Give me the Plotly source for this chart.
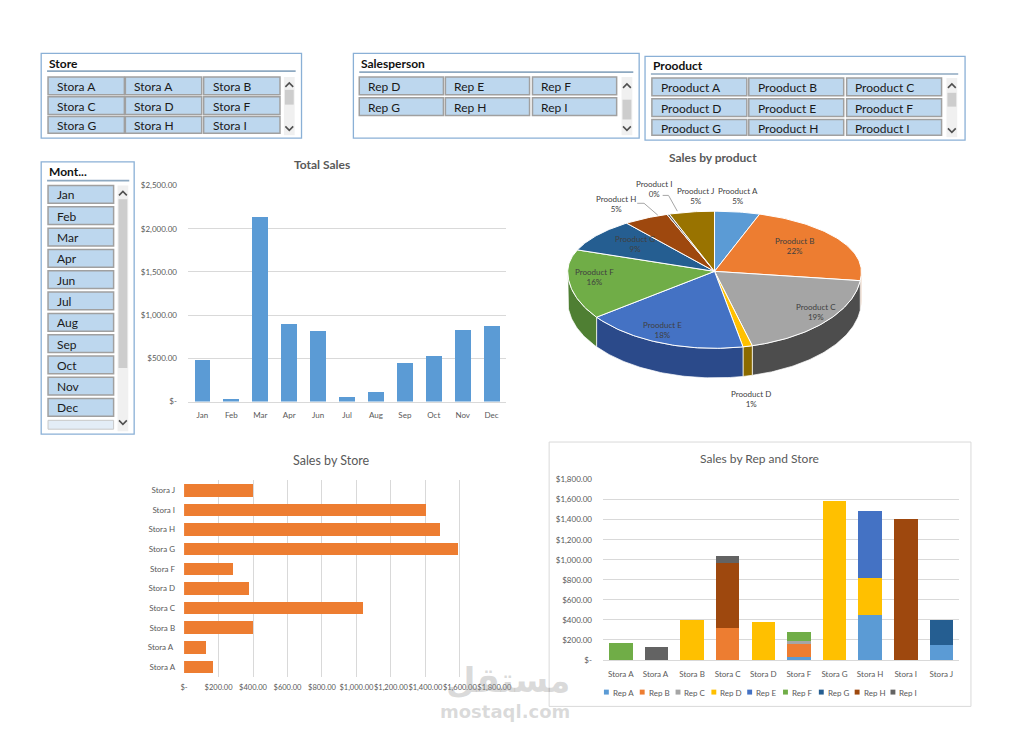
import math
import plotly.graph_objects as go

W, H = 1032, 741
FONT = "Lato"
GRAY = "#595959"
GRID = "#D9D9D9"

# ---------------- data ----------------
months = ["Jan", "Feb", "Mar", "Apr", "Jun", "Jul", "Aug", "Sep", "Oct", "Nov", "Dec"]
monthly_sales = [483, 34, 2138, 898, 822, 57, 114, 445, 525, 833, 871]

products = ["Prooduct A", "Prooduct B", "Prooduct C", "Prooduct D", "Prooduct E",
            "Prooduct F", "Prooduct G", "Prooduct H", "Prooduct I", "Prooduct J"]
product_sales = [360, 1590, 1370, 75, 1300, 1155, 650, 360, 20, 360]
product_colors = ["#5B9BD5", "#ED7D31", "#A5A5A5", "#FFC000", "#4472C4",
                  "#70AD47", "#255E91", "#9E480E", "#636363", "#997300"]
product_side_colors = ["#3F75A8", "#B85E1F", "#4D4D4D", "#8A6A00", "#2B4A8A",
                       "#4F7F33", "#1A4268", "#6E320A", "#444444", "#6B5100"]

stores = ["Stora A", "Stora A ", "Stora B", "Stora C", "Stora D",
          "Stora F", "Stora G", "Stora H", "Stora I", "Stora J"]
store_sales = [167, 128, 399, 1037, 374, 282, 1587, 1484, 1403, 399]

reps = ["Rep A", "Rep B", "Rep C", "Rep D", "Rep E", "Rep F", "Rep G", "Rep H", "Rep I"]
rep_colors = ["#5B9BD5", "#ED7D31", "#A5A5A5", "#FFC000", "#4472C4",
              "#70AD47", "#255E91", "#9E480E", "#636363"]
rep_a = [0, 0, 0, 0, 0, 30, 0, 445, 0, 150]
rep_b = [0, 0, 0, 315, 0, 130, 0, 0, 0, 0]
rep_c = [0, 0, 0, 0, 0, 30, 0, 0, 0, 0]
rep_d = [0, 0, 400, 0, 375, 0, 1585, 373, 0, 0]
rep_e = [0, 0, 0, 0, 0, 0, 0, 667, 0, 0]
rep_f = [170, 0, 0, 0, 0, 92, 0, 0, 0, 0]
rep_g = [0, 0, 0, 0, 0, 0, 0, 0, 0, 248]
rep_h = [0, 0, 0, 653, 0, 0, 0, 0, 1403, 0]
rep_i = [0, 130, 0, 69, 0, 0, 0, 0, 0, 0]
rep_values = [rep_a, rep_b, rep_c, rep_d, rep_e, rep_f, rep_g, rep_h, rep_i]

total_ticks = [0, 500, 1000, 1500, 2000, 2500]
total_ticktext = ["$-", "$500.00", "$1,000.00", "$1,500.00", "$2,000.00", "$2,500.00"]
store_ticks = [0, 200, 400, 600, 800, 1000, 1200, 1400, 1600, 1800]
store_ticktext = ["$-", "$200.00", "$400.00", "$600.00", "$800.00", "$1,000.00",
                  "$1,200.00", "$1,400.00", "$1,600.00", "$1,800.00"]

store_slicer_items = ["Stora A", "Stora A", "Stora B", "Stora C", "Stora D",
                      "Stora F", "Stora G", "Stora H", "Stora I"]
salesperson_slicer_items = ["Rep D", "Rep E", "Rep F", "Rep G", "Rep H", "Rep I"]
product_slicer_items = ["Prooduct A", "Prooduct B", "Prooduct C", "Prooduct D",
                        "Prooduct E", "Prooduct F", "Prooduct G", "Prooduct H", "Prooduct I"]
month_slicer_items = ["Jan", "Feb", "Mar", "Apr", "Jun", "Jul", "Aug", "Sep", "Oct", "Nov", "Dec"]


# ---------------- helpers ----------------
def X(p):
    return p / W


def Y(p):
    return 1 - p / H


shapes = []
anns = []


def rect(x0, y0, x1, y1, fill=None, line=None, lw=1.0):
    shapes.append(dict(type="rect", xref="paper", yref="paper",
                       x0=X(x0), x1=X(x1), y0=Y(y1), y1=Y(y0),
                       fillcolor=fill or "rgba(0,0,0,0)",
                       line=dict(color=line or "rgba(0,0,0,0)", width=lw if line else 0),
                       layer="below"))


def hline(x0, x1, y, color, lw=1.0):
    shapes.append(dict(type="line", xref="paper", yref="paper",
                       x0=X(x0), x1=X(x1), y0=Y(y), y1=Y(y),
                       line=dict(color=color, width=lw), layer="below"))


def chevron(cx, cy, up=True):
    d = -1 if up else 1
    path = "M {},{} L {},{} L {},{}".format(X(cx - 4), Y(cy - 2 * d), X(cx), Y(cy + 2 * d),
                                            X(cx + 4), Y(cy - 2 * d))
    shapes.append(dict(type="path", xref="paper", yref="paper", path=path,
                       line=dict(color="#505050", width=1.6)))


def text(x, y, s, size=8, color=GRAY, anchor="left", family=FONT, ref="paper"):
    if ref == "paper":
        xx, yy, xr, yr = X(x), Y(y), "paper", "paper"
    else:
        xx, yy, xr, yr = x, y, "x4", "y4"
    anns.append(dict(x=xx, y=yy, xref=xr, yref=yr, text=s, showarrow=False,
                     xanchor=anchor, yanchor="middle",
                     font=dict(family=family, size=size, color=color)))


def slicer(box, title, title_y, sep_y, items, cols_x, col_w, rows_y, row_h, clip_y,
           scroll_x, thumb, arrows):
    x0, y0, x1, y1 = box
    rect(x0, y0, x1, y1, fill="white", line="#8AB0D6", lw=1.3)
    text(x0 + 6, title_y, "<b>" + title + "</b>", size=12, color="#111111")
    hline(x0 + 6, scroll_x[1] + 1, sep_y, "#8EA9C1", 1.6)
    rect(scroll_x[0], rows_y[0], scroll_x[1], clip_y + 2, fill="#F0F0F0")
    rect(scroll_x[0] + 1, thumb[0], scroll_x[1] - 1, thumb[1], fill="#CDCDCD")
    chevron((scroll_x[0] + scroll_x[1]) / 2, arrows[0], True)
    chevron((scroll_x[0] + scroll_x[1]) / 2, arrows[1], False)
    ncol = len(cols_x)
    for i, it in enumerate(items):
        r, c = divmod(i, ncol)
        if r >= len(rows_y):
            break
        by0 = rows_y[r]
        by1 = min(by0 + row_h, clip_y)
        rect(cols_x[c], by0, cols_x[c] + col_w, by1, fill="#BDD7EE", line="#A0A0A0", lw=1.5)
        text(cols_x[c] + 7, by0 + row_h / 2 + 0.5, it, size=12, color="#1a1a1a")


# ---------------- slicers ----------------
slicer((38, 49, 304, 135), "Store", 59, 67, store_slicer_items,
       [45, 124, 204], 78, [73, 93, 113], 18, 130,
       (286, 297), (86, 101), (81, 125))
slicer((357, 49, 649, 135), "Salesperson", 59, 68, salesperson_slicer_items,
       [363, 451, 540], 86, [73, 94], 18, 130,
       (631, 642), (96, 116), (82, 125))
slicer((655, 52, 982, 137), "Prooduct", 61, 70, product_slicer_items,
       [662, 761, 861], 97, [74, 95, 116], 18, 132,
       (963, 974), (89, 103), (82, 127))
month_rows = [183 + i * 21.6 for i in range(len(month_slicer_items))]
slicer((38, 159, 133, 435), "Mont...", 169, 178, month_slicer_items,
       [45], 67, month_rows, 18, 430,
       (116, 127), (197, 368), (191, 423))
rect(45, 421, 112, 430, fill="#E3EDF7", line="#C8C8C8", lw=1)

# ---------------- figure ----------------
fig = go.Figure()

# Total Sales
fig.add_trace(go.Bar(x=months, y=monthly_sales, marker=dict(color="#5B9BD5", line=dict(width=0)),
                     width=0.55, xaxis="x", yaxis="y", showlegend=False, hoverinfo="skip"))

# Sales by Store
fig.add_trace(go.Bar(y=stores, x=store_sales, orientation="h",
                     marker=dict(color="#ED7D31", line=dict(width=0)),
                     width=0.64, xaxis="x2", yaxis="y2", showlegend=False, hoverinfo="skip"))

# Sales by Rep and Store
for name, vals, col in zip(reps, rep_values, rep_colors):
    fig.add_trace(go.Bar(x=stores, y=vals, name=name, marker=dict(color=col, line=dict(width=0)),
                         width=0.66, xaxis="x3", yaxis="y3", showlegend=False, hoverinfo="skip"))

# Legend for Rep chart
for i, (name, col) in enumerate(zip(reps, rep_colors)):
    sx = 613 + i * 36.6
    rect(sx, 694, sx + 5, 699, fill=col)
    text(sx + 7, 697, name, size=8)

# 3D-look pie (Sales by product) drawn in pixel-unit axes
cx, cy, rx, ry_up, ry_dn, depth = 726, 270, 150, 61, 78, 30


def ept(t):
    ry = ry_up if math.cos(t) >= 0 else ry_dn
    return cx + rx * math.sin(t), cy - ry * math.cos(t)


def arc(a, b):
    n = max(2, int(abs(b - a) / math.radians(1)) + 2)
    return [ept(a + (b - a) * k / (n - 1)) for k in range(n)]


total = float(sum(product_sales))
bounds = []
acc = 0.0
for v in product_sales:
    a = acc / total * 2 * math.pi
    acc += v
    b = acc / total * 2 * math.pi
    bounds.append((a, b))

# side walls
for (a, b), scol in zip(bounds, product_side_colors):
    a2, b2 = max(a, math.pi / 2), min(b, 3 * math.pi / 2)
    if a2 < b2:
        top = arc(a2, b2)
        bot = [(x, y + depth) for x, y in reversed(top)]
        pts = top + bot + [top[0]]
        fig.add_trace(go.Scatter(x=[p[0] for p in pts], y=[p[1] for p in pts], mode="lines",
                                 fill="toself", fillcolor=scol, line=dict(color="white", width=0.7),
                                 xaxis="x4", yaxis="y4", showlegend=False, hoverinfo="skip"))
# top faces
for (a, b), col in zip(bounds, product_colors):
    pts = [(cx, cy)] + arc(a, b) + [(cx, cy)]
    fig.add_trace(go.Scatter(x=[p[0] for p in pts], y=[p[1] for p in pts], mode="lines",
                             fill="toself", fillcolor=col, line=dict(color="white", width=1),
                             xaxis="x4", yaxis="y4", showlegend=False, hoverinfo="skip"))

label_pos = [(750, 194), (808, 244), (830, 311), (763, 399), (673, 329),
             (603, 276), (645, 242), (625, 202), (664, 187), (707, 194)]
for name, v, (lx, ly) in zip(products, product_sales, label_pos):
    pct = int(round(v / total * 100))
    text(lx, ly, "{}<br>{}%".format(name, pct), size=8, color="#404040", anchor="center", ref="x4")

for pts in ([(647, 201), (654, 201), (668, 213)], [(673, 193), (679, 193), (688, 209)]):
    path = "M " + " L ".join("{},{}".format(x, y) for x, y in pts)
    shapes.append(dict(type="path", xref="x4", yref="y4", path=path,
                       line=dict(color="#A6A6A6", width=1)))

# chart border for Rep and Store chart
rect(557, 443, 988, 711, line=GRID, lw=1)

# titles
text(325, 162, "<b>Total Sales</b>", size=12, anchor="center")
text(724, 155, "<b>Sales by product</b>", size=12, anchor="center")
text(335, 462, "Sales by Store", size=12.5, anchor="center")
text(772, 460, "Sales by Rep and Store", size=12, anchor="center")

# watermark
anns.append(dict(x=X(515), y=Y(684), xref="paper", yref="paper", text="<b>مستقل</b>",
                 showarrow=False, xanchor="center", yanchor="middle",
                 font=dict(family="DejaVu Sans", size=34, color="rgba(150,150,150,0.35)")))
anns.append(dict(x=X(512), y=Y(716), xref="paper", yref="paper", text="<b>mostaql.com</b>",
                 showarrow=False, xanchor="center", yanchor="middle",
                 font=dict(family="DejaVu Sans", size=18, color="rgba(150,150,150,0.35)")))

tickfont = dict(family=FONT, size=8, color=GRAY)
tickfont_small = dict(family=FONT, size=7.5, color=GRAY)

fig.update_layout(
    margin=dict(l=0, r=0, t=0, b=0, pad=0),
    paper_bgcolor="white", plot_bgcolor="rgba(0,0,0,0)",
    barmode="stack",
    font=dict(family=FONT, color=GRAY),
    shapes=shapes, annotations=anns,
    xaxis=dict(domain=[X(188), X(513)], anchor="y", type="category", tickfont=tickfont,
               showgrid=False, showline=True, linecolor=GRID, ticks="", tickangle=0,
               ticklabelstandoff=6, fixedrange=True),
    yaxis=dict(domain=[Y(402), Y(183)], anchor="x", range=[0, 2500], tickvals=total_ticks,
               ticktext=total_ticktext, tickfont=tickfont, gridcolor=GRID, zeroline=False,
               showline=False, ticks="", ticklabelstandoff=10, fixedrange=True),
    xaxis2=dict(domain=[X(184), X(501)], anchor="y2", range=[0, 1800], tickvals=store_ticks,
                ticktext=store_ticktext, tickfont=tickfont_small, gridcolor=GRID, zeroline=False,
                showline=False, ticks="", tickangle=0, ticklabelstandoff=5, fixedrange=True),
    yaxis2=dict(domain=[Y(681), Y(482)], anchor="x2", type="category", tickfont=tickfont,
                showgrid=False, showline=False, ticks="", ticklabelstandoff=8, fixedrange=True),
    xaxis3=dict(domain=[X(612), X(976)], anchor="y3", type="category", tickfont=tickfont,
                showgrid=False, showline=True, linecolor=GRID, ticks="", tickangle=0,
                ticklabelstandoff=6, fixedrange=True),
    yaxis3=dict(domain=[Y(664), Y(481)], anchor="x3", range=[0, 1800], tickvals=store_ticks,
                ticktext=store_ticktext, tickfont=tickfont, gridcolor=GRID, zeroline=False,
                showline=False, ticks="", ticklabelstandoff=10, fixedrange=True),
    xaxis4=dict(domain=[X(560), X(890)], anchor="y4", range=[560, 890], visible=False,
                fixedrange=True),
    yaxis4=dict(domain=[Y(420), Y(140)], anchor="x4", range=[420, 140], visible=False,
                fixedrange=True),
)

# The plot div is pinned to the page's top-left corner at exactly 1032x741.
fig.write_html(
    "out.html",
    config={"displayModeBar": False},
    default_width="{}px".format(W),
    default_height="{}px; position:absolute; left:0; top:0".format(H),
)
